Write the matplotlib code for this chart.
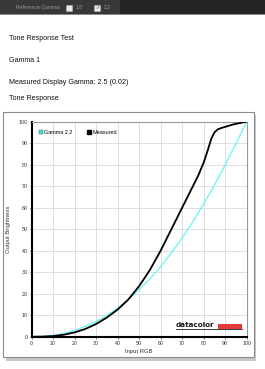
import numpy as np
import matplotlib.pyplot as plt
from matplotlib.lines import Line2D
from matplotlib.patches import Rectangle

plt.rcParams['font.family'] = ['Liberation Sans', 'DejaVu Sans']

# --- data ---
gamma_x = [0, 5, 10, 15, 20, 25, 30, 35, 40, 45, 50, 55, 60, 65, 70, 75, 80, 85, 90, 95, 100]
gamma_y = [0, 0.1, 0.6, 1.5, 2.9, 4.8, 7.1, 9.9, 13.3, 17.3, 21.8, 26.9, 32.6, 39.0,
           45.9, 53.5, 61.7, 70.5, 79.9, 89.8, 100]

meas_x = [0, 5, 10, 15, 20, 25, 30, 35, 40, 45, 50, 55, 60, 65, 70, 72.5, 75, 77.5, 80,
          82, 83.5, 85, 86.5, 88, 90, 94, 100]
meas_y = [0, 0.05, 0.3, 0.9, 2.0, 3.6, 5.9, 8.9, 12.6, 17.3, 23.5, 31.0, 40.0, 50.0, 60.0,
          65.0, 70.0, 75.0, 81.0, 87.0, 92.0, 95.0, 96.4, 97.0, 97.6, 98.8, 100]

ticks = list(range(0, 101, 10))
header_lines = ["Tone Response Test", "Gamma 1", "Measured Display Gamma: 2.5 (0.02)", "Tone Response"]
header_y = [38, 60, 82, 98]

W, H = 265, 369
fig = plt.figure(figsize=(W / 100, H / 100), dpi=100)
fig.patch.set_facecolor("white")


def fx(px):
    return px / W


def fy(py):
    return 1 - py / H


# top toolbar
fig.patches.append(Rectangle((0, fy(14)), 1, 14 / H, transform=fig.transFigure,
                             facecolor="#242424", edgecolor="none", zorder=0))
fig.patches.append(Rectangle((0, fy(14)), 120 / W, 14 / H, transform=fig.transFigure,
                             facecolor="#383838", edgecolor="none", zorder=0))
fig.patches.append(Rectangle((0, fy(15)), 1, 1.2 / H, transform=fig.transFigure,
                             facecolor="#8a8a8a", edgecolor="none", zorder=0))
fig.text(fx(16), fy(7.5), "Reference Gamma:", fontsize=3.6, color="#9a9a9a", va="center")
for bx, lab, on in [(66, "1.8", False), (94, "2.2", True)]:
    fig.patches.append(Rectangle((fx(bx), fy(10.5)), 6 / W, 6 / H, transform=fig.transFigure,
                                 facecolor="#e8e8e8", edgecolor="#bbbbbb", lw=0.4, zorder=1))
    if on:
        fig.text(fx(bx + 3), fy(7.5), "\u2713", fontsize=4, color="#2850a0",
                 ha="center", va="center", family=["DejaVu Sans"])
    fig.text(fx(bx + 10), fy(7.5), lab, fontsize=3.6, color="#9a9a9a", va="center")

for txt, yy in zip(header_lines, header_y):
    fig.text(fx(9), fy(yy), txt, fontsize=5.1, color="#111111", va="center")

# chart frame with shadow
fig.patches.append(Rectangle((fx(6), fy(361)), 250 / W, 246 / H, transform=fig.transFigure,
                             facecolor="#c8c8c8", edgecolor="none", zorder=0))
fig.patches.append(Rectangle((fx(3), fy(357)), 251 / W, 245 / H, transform=fig.transFigure,
                             facecolor="white", edgecolor="#8a8a8a", lw=0.8, zorder=0))

ax = fig.add_axes([fx(31.5), fy(336.7), 215.2 / W, 215 / H], zorder=3)
ax.set_facecolor("white")
ax.plot(gamma_x, gamma_y, color="#66f5f5", lw=0.9, zorder=3)
ax.plot(meas_x, meas_y, color="black", lw=1.3, zorder=4)
ax.set_xlim(0, 100)
ax.set_ylim(0, 100)
ax.set_xticks(ticks)
ax.set_yticks(ticks)
ax.grid(True, color="#dddddd", lw=0.7)
ax.set_axisbelow(True)
ax.tick_params(labelsize=3.8, length=1.5, width=0.5, pad=1.5, colors="#333333")
for s in ["top", "right"]:
    ax.spines[s].set_color("#999999")
    ax.spines[s].set_linewidth(0.8)
for s in ["left", "bottom"]:
    ax.spines[s].set_color("black")
    ax.spines[s].set_linewidth(1.5)
ax.set_xlabel("Input RGB", fontsize=4.2, labelpad=2, color="#333333")
ax.set_ylabel("Output Brightness", fontsize=4.2, labelpad=5, color="#333333")

handles = [Line2D([], [], ls="none", marker="s", markersize=3.2, markerfacecolor="#33e6e6",
                  markeredgecolor="#555555", markeredgewidth=0.3, label="Gamma 2.2"),
           Line2D([], [], ls="none", marker="s", markersize=3.2, markerfacecolor="black",
                  markeredgecolor="black", label="Measured")]
ax.legend(handles=handles, loc="upper left", bbox_to_anchor=(0.01, 0.985), ncol=2,
          frameon=False, fontsize=4.0, handletextpad=0.2, columnspacing=2.6,
          handlelength=0.8)

# datacolor logo
ax.text(0.672, 0.040, "datacolor", transform=ax.transAxes, fontsize=5.2, fontweight="bold",
        color="#1a1a1a", ha="left", va="bottom", family=["DejaVu Sans"])
ax.add_patch(Rectangle((0.865, 0.038), 0.115, 0.022, transform=ax.transAxes,
                       facecolor="#e03a3a", edgecolor="none", zorder=5))
ax.plot([0.672, 0.98], [0.035, 0.035], transform=ax.transAxes, color="#1a1a1a", lw=0.6,
        zorder=5)

fig.savefig("out.png", dpi=100)
